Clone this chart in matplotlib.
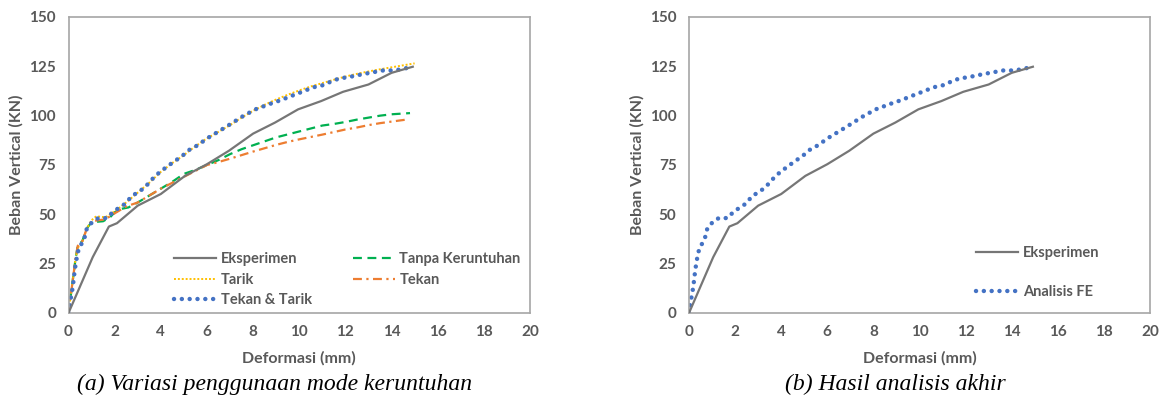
import matplotlib
matplotlib.use("Agg")
import matplotlib.pyplot as plt

# ---- data ----
exp_x = [0, 1.05, 1.75, 2.1, 3.0, 4.0, 5.05, 6.0, 6.95, 8.0, 8.95, 9.95, 10.95, 11.9, 13.0, 14.0, 14.92]
exp_y = [0, 28.3, 43.8, 45.5, 54.4, 60.3, 69.5, 75.4, 82.2, 90.9, 96.5, 103.2, 107.4, 112.1, 115.8, 121.7, 124.8]

tt_x = [0, 0.05, 0.12, 0.19, 0.23, 0.28, 0.34, 0.42, 0.54, 0.7, 0.79, 1.02, 1.29, 1.67, 1.95, 2.22, 2.49,
        2.71, 2.99, 3.28, 3.53, 3.76, 4.07, 4.38, 4.62, 4.93, 5.24, 5.55, 5.86, 6.17, 6.48, 6.82, 7.13,
        7.45, 7.79, 8.1, 8.49, 8.88, 9.22, 9.57, 9.91, 10.27, 10.66, 11.05, 11.36, 11.74, 12.13, 12.49,
        12.83, 13.25, 13.63, 14.02, 14.38, 14.8]
tt_y = [0, 4.4, 8.8, 13.5, 17.8, 22.4, 26.9, 31.3, 34.5, 38.4, 42.6, 46.0, 48.1, 48.1, 51.5, 53.5, 55.6,
        58.9, 61.1, 63.3, 66.5, 69.5, 72.4, 75.1, 77.1, 79.6, 82.7, 84.7, 87.2, 89.7, 91.8, 94.3, 96.5,
        99.0, 101.2, 103.2, 104.9, 106.6, 107.9, 109.6, 111.1, 112.8, 114.5, 115.5, 117.2, 118.9, 119.5,
        120.4, 121.2, 122.1, 122.9, 122.9, 123.4, 124.5]

tarik_x = [0, 0.1, 0.2, 0.3, 0.4, 0.6, 0.8, 1.0, 1.2, 1.6, 2.0, 2.5, 3.0, 3.5, 4.0, 4.5, 5.0, 5.5, 6.0,
           6.5, 7.0, 7.5, 8.0, 8.5, 9.0, 9.5, 10.0, 10.5, 11.0, 11.5, 12.0, 12.5, 13.0, 13.5, 14.0, 14.5, 15.0]
tarik_y = [0, 9, 18, 27, 33, 36, 43, 47, 49, 48.5, 51.5, 56, 61, 66, 71.5, 76, 80, 84.5, 88.5,
           91.8, 95.2, 99, 102.5, 105.5, 108.2, 110.6, 112.8, 114.8, 116.5, 118.2, 119.8, 121.2, 122.4,
           123.5, 124.5, 125.5, 126.5]

tanpa_x = [0, 0.1, 0.2, 0.3, 0.4, 0.6, 0.8, 1.0, 1.5, 1.8, 2.0, 2.3, 2.6, 3.0, 3.5, 4.0, 4.5, 5.0, 5.5,
           6.0, 6.5, 7.0, 7.5, 8.0, 8.5, 9.0, 9.5, 10.0, 10.5, 11.0, 11.5, 12.0, 12.5, 13.0, 13.5, 14.0, 14.8]
tanpa_y = [0, 9, 18, 27, 34, 36.5, 43, 46, 46.5, 48.5, 51, 52.8, 53.5, 56, 59.5, 63, 66.5, 70.5, 72.5,
           75, 77.5, 80.5, 83, 85, 87, 89, 90.5, 92, 93.5, 95, 95.8, 96.8, 98, 99, 100, 100.7, 101.3]

tekan_x = [0, 0.1, 0.2, 0.3, 0.4, 0.6, 0.8, 1.0, 1.6, 2.0, 2.5, 3.0, 3.5, 4.0, 4.5, 5.0, 5.5, 6.0, 6.5,
           7.0, 7.5, 8.0, 8.5, 9.0, 9.5, 10.0, 10.5, 11.0, 11.5, 12.0, 12.5, 13.0, 13.5, 14.0, 14.7]
tekan_y = [0, 9, 18, 27, 34, 36.5, 43, 46.5, 47.5, 50.5, 54, 56, 59.5, 63, 66, 69, 72, 75, 76.5,
           78.2, 80, 81.8, 83.5, 85.2, 86.7, 88, 89.2, 90.4, 91.7, 93, 94, 95.2, 96.2, 97.0, 98.1]

x_ticks = list(range(0, 21, 2))
y_ticks = list(range(0, 151, 25))

# ---- styles ----
GREY = "#767676"
BLUE = "#4472C4"
YELLOW = "#FFC000"
GREEN = "#00B050"
ORANGE = "#ED7D31"
TXT = "#595959"
FRAME = "#a6a6a6"
FONT = "Lato"

fig = plt.figure(figsize=(11.62, 3.99), dpi=100)
ax1 = fig.add_axes([68.5 / 1162, 86 / 399, 461.5 / 1162, 296 / 399])
ax2 = fig.add_axes([689 / 1162, 86 / 399, 461 / 1162, 296 / 399])


def style(ax):
    ax.set_xlim(0, 20)
    ax.set_ylim(0, 150)
    ax.set_xticks(x_ticks)
    ax.set_yticks(y_ticks)
    ax.tick_params(length=0, pad=9, labelsize=11, labelcolor=TXT)
    for lab in ax.get_xticklabels() + ax.get_yticklabels():
        lab.set_fontfamily(FONT)
        lab.set_fontweight("bold")
    for s in ax.spines.values():
        s.set_color(FRAME)
        s.set_linewidth(1.2)
    ax.set_xlabel("Deformasi (mm)", fontfamily=FONT, fontweight="bold", fontsize=11.5,
                  color=TXT, labelpad=8)
    ax.set_ylabel("Beban Vertical (KN)", fontfamily=FONT, fontweight="bold", fontsize=11.5,
                  color=TXT, labelpad=4)


def dotted_blue(ax, x, y, label):
    ln, = ax.plot(x, y, color=BLUE, lw=3.2, linestyle=(0, (0.01, 1.75)),
                  dash_capstyle="round", label=label)
    return ln


# left plot
ax1.plot(exp_x, exp_y, color=GREY, lw=1.6, label="Eksperimen", zorder=3)
ax1.plot(tanpa_x, tanpa_y, color=GREEN, lw=1.6, linestyle=(0, (4, 2.5)), label="Tanpa Keruntuhan", zorder=2)
ax1.plot(tarik_x, tarik_y, color=YELLOW, lw=1.4, linestyle=(0, (1, 1)), label="Tarik", zorder=2)
ax1.plot(tekan_x, tekan_y, color=ORANGE, lw=1.6, linestyle=(0, (4, 2, 1, 2)), label="Tekan", zorder=2)
dotted_blue(ax1, tt_x, tt_y, "Tekan & Tarik")
style(ax1)

h, l = ax1.get_legend_handles_labels()
order = ["Eksperimen", "Tarik", "Tekan & Tarik", "Tanpa Keruntuhan", "Tekan"]
hd = dict(zip(l, h))
leg1 = ax1.legend([hd[k] for k in order], order, ncol=2, loc="upper left",
                  bbox_to_anchor=(0.229, 0.205), frameon=False, handlelength=2.9,
                  handletextpad=0.3, columnspacing=2.8, labelspacing=0.45,
                  prop={"family": FONT, "weight": "bold", "size": 10.5},
                  borderaxespad=0, borderpad=0)
for t in leg1.get_texts():
    t.set_color(TXT)

# right plot
ax2.plot(exp_x, exp_y, color=GREY, lw=1.6, label="Eksperimen", zorder=3)
dotted_blue(ax2, tt_x, tt_y, "Analisis FE")
style(ax2)
leg2 = ax2.legend(loc="upper left", bbox_to_anchor=(0.623, 0.225), frameon=False,
                  handlelength=2.9, handletextpad=0.3, labelspacing=1.7,
                  prop={"family": FONT, "weight": "bold", "size": 10.5},
                  borderaxespad=0, borderpad=0)
for t in leg2.get_texts():
    t.set_color(TXT)

# captions
fig.text(275 / 1162, 1 - 384 / 399, "(a) Variasi penggunaan mode keruntuhan",
         ha="center", va="center", fontfamily="Liberation Serif", style="italic", fontsize=17)
fig.text(895 / 1162, 1 - 384 / 399, "(b) Hasil analisis akhir",
         ha="center", va="center", fontfamily="Liberation Serif", style="italic", fontsize=17)

fig.savefig("out.png", dpi=100)
